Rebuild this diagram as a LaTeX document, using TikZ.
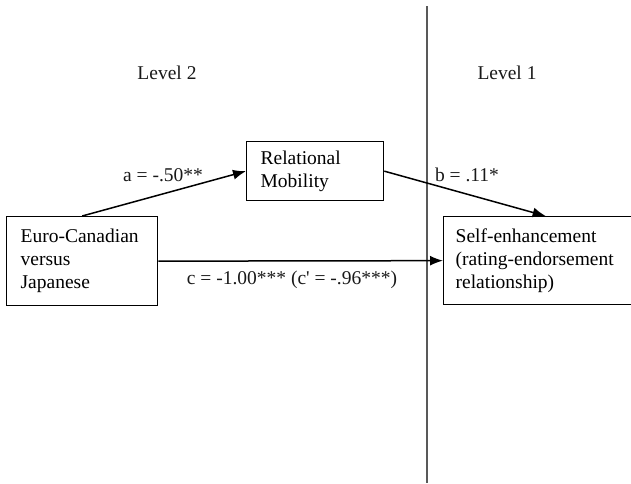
\documentclass[tikz,border=0pt]{standalone}
\usepackage{fontspec}
\setmainfont{Liberation Serif}
\usetikzlibrary{arrows.meta}
\begin{document}
\begin{tikzpicture}[x=1pt,y=-1pt,
  font=\fontsize{19.5}{23}\selectfont,
  varbox/.style={draw=black, line width=1.3pt, rectangle, anchor=north west, align=left, inner ysep=0pt},
  path/.style={draw=black, line width=1.5pt, -{Latex[length=13pt,width=10pt]}},
  lbl/.style={inner sep=0pt, text=black!90}]
\useasboundingbox (0,0) rectangle (631,483);
% level divider
\coordinate (divtop) at (427,6);
\coordinate (divbot) at (427,483);
\draw[line width=1.8pt, black!65] (divtop) -- (divbot);
% level labels
\node[lbl] (lev2) at (167,73) {Level 2};
\node[lbl] (lev1) at (507,73) {Level 1};
% boxes
\node[varbox, minimum width=151pt, minimum height=89pt, text width=123pt, inner xsep=14pt] (euro) at (6,216)
  {Euro-Canadian\\versus\\Japanese};
\node[varbox, minimum width=137pt, minimum height=59pt, text width=109pt, inner xsep=14pt] (rel) at (246,141)
  {Relational\\Mobility};
\node[varbox, minimum width=204pt, minimum height=88pt, text width=180pt, inner xsep=12pt] (self) at (443,216)
  {Self-enhancement\\(rating-endorsement\\relationship)};
% paths
\draw[path] (euro.north) -- (rel.west);
\draw[path] (rel.east) -- (self.north);
\draw[path] (euro.east) -- (self.west);
% path labels
\node[lbl] (la) at (163,175) {a = -.50**};
\node[lbl] (lb) at (467,175) {b = .11*};
\node[lbl] (lc) at (292,280) {c = -1.00*** (c\textquotesingle{} = -.96***)};
\end{tikzpicture}
\end{document}
